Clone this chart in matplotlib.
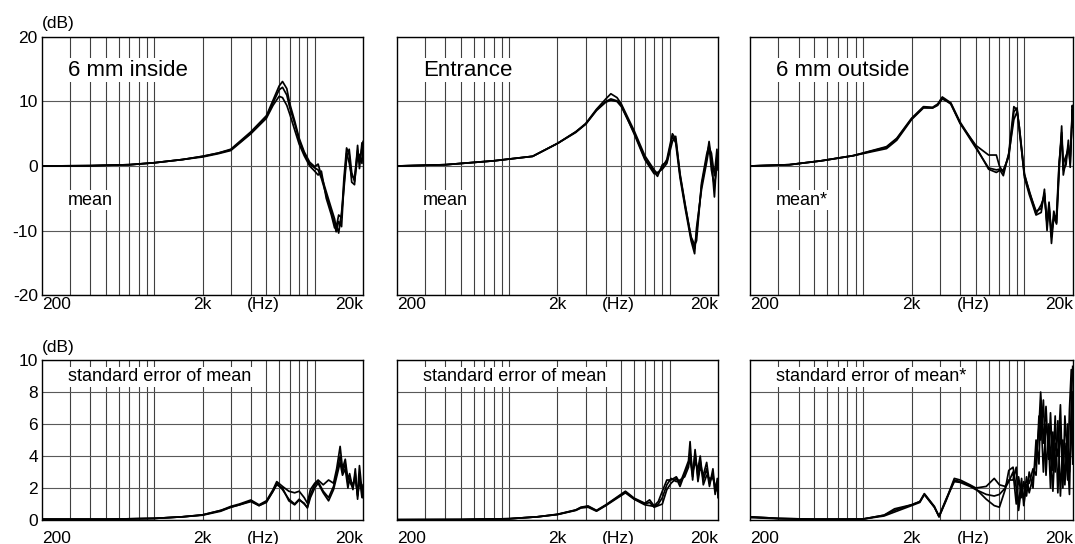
import matplotlib
matplotlib.use("Agg")
import matplotlib.pyplot as plt

plt.rcParams['font.family'] = ['Liberation Sans', 'DejaVu Sans']
plt.rcParams['axes.unicode_minus'] = False

# --- top row: mean (dB) ---
f_in = [200, 400, 700, 1000, 1500, 2000, 2500, 3000, 4000, 5000, 5500, 6000, 6300, 6700, 7000,
        7500, 8000, 8600, 9300, 10000, 10500, 11000, 11800, 12700, 13300, 13600, 14100, 14700,
        15200, 15800, 16400, 17000, 17700, 18500, 19000, 19700, 20000]
in_a = [0, 0.05, 0.2, 0.5, 1.0, 1.5, 2.0, 2.6, 5.3, 7.8, 10.2, 12.4, 13.1, 12.0, 9.6,
        7.0, 4.3, 2.2, 0.6, -0.1, 0.3, -1.5, -4.0, -6.6, -8.2, -9.6, -7.6, -8.0,
        -2.0, 2.8, 1.8, -2.5, -2.9, 3.2, -0.4, 3.6, 2.5]
in_b = [0, 0.05, 0.2, 0.5, 1.0, 1.5, 2.0, 2.5, 5.1, 7.6, 9.8, 11.8, 12.2, 11.0, 9.0,
        6.6, 4.0, 2.0, 0.3, -0.3, -0.6, -1.9, -4.5, -7.2, -9.0, -10.2, -8.6, -9.4,
        -3.0, 2.0, 0.5, -1.6, -1.8, 2.4, 0.8, 2.8, 3.2]
in_c = [0, 0.05, 0.2, 0.5, 1.0, 1.4, 1.9, 2.4, 5.0, 7.4, 9.4, 10.8, 10.6, 9.4, 8.0,
        5.6, 3.4, 1.6, 0.0, -0.8, -1.4, -0.8, -5.0, -7.6, -9.6, -9.0, -10.4, -7.2,
        -3.6, 1.2, 2.6, -1.0, -2.4, 1.4, 1.8, 0.4, 3.8]

f_ent = [200, 400, 800, 1400, 2000, 2600, 3000, 3500, 4000, 4300, 4700, 5000, 6000, 7000, 8000,
         8400, 9000, 9600, 10400, 10900, 11600, 12500, 13600, 14300, 14700, 15800, 17000,
         17600, 18200, 19000, 19700, 20000]
ent_a = [0, 0.2, 0.8, 1.5, 3.5, 5.3, 6.6, 8.8, 10.4, 11.2, 10.6, 9.6, 5.5, 1.6, -0.6,
         -1.2, -0.2, 1.0, 5.0, 4.2, -1.2, -6.0, -11.2, -12.8, -10.4, -3.0, 1.2,
         3.8, 1.0, -4.8, 1.6, 1.0]
ent_b = [0, 0.2, 0.8, 1.5, 3.5, 5.3, 6.5, 8.6, 9.9, 10.2, 10.0, 9.2, 5.2, 1.2, -0.9,
         -1.6, 0.2, 0.6, 4.6, 3.6, -1.8, -6.6, -11.6, -13.6, -9.6, -3.6, 0.6,
         2.8, 2.0, -1.5, 2.6, -0.6]
ent_c = [0, 0.2, 0.8, 1.5, 3.5, 5.2, 6.5, 8.7, 10.0, 10.4, 10.1, 9.4, 5.0, 1.0, -1.2,
         -1.0, -0.5, 0.4, 3.8, 4.6, -1.4, -6.2, -11.0, -12.2, -11.6, -2.6, 1.8,
         3.2, -0.6, -3.0, 0.0, 1.8]

f_out = [200, 350, 550, 870, 1400, 1620, 2000, 2370, 2700, 2900, 3100, 3500, 4000, 5000, 6000,
         6700, 7000, 7400, 8000, 8600, 9000, 9300, 10000, 10700, 11800, 12700, 13300, 13800,
         14200, 14700, 15200, 15800, 16400, 17000, 17400, 18100, 18700, 19200, 19800, 20000]
out_a = [0, 0.2, 0.8, 1.6, 3.0, 4.3, 7.4, 9.2, 9.1, 9.6, 10.6, 9.6, 6.6, 3.2, 1.7,
         1.7, 0.0, -1.0, 1.8, 7.2, 8.4, 6.0, -1.2, -4.0, -7.0, -6.6, -4.2, -9.0,
         -5.6, -11.0, -7.0, -8.8, 0.2, 5.2, -1.4, 1.0, 3.2, 0.4, 8.8, 6.0]
out_b = [0, 0.2, 0.8, 1.6, 2.7, 4.0, 7.2, 9.0, 9.0, 9.4, 10.4, 9.7, 6.6, 2.8, -0.3,
         -0.6, -0.5, -1.5, 2.0, 9.2, 8.7, 6.0, -1.8, -4.4, -7.6, -7.2, -3.6, -10.0,
         -6.0, -12.0, -7.8, -9.0, -0.8, 6.2, -0.6, 0.2, 4.0, -0.2, 9.4, 8.0]
out_c = [0, 0.2, 0.8, 1.6, 2.9, 4.2, 7.3, 9.1, 9.0, 9.5, 10.7, 9.8, 6.8, 3.0, -0.5,
         -1.0, -0.7, -0.6, 1.4, 8.4, 9.0, 5.4, -1.4, -3.8, -7.4, -6.0, -4.6, -8.8,
         -6.6, -10.2, -8.2, -7.6, 0.6, 4.6, 0.4, 1.6, 2.6, 1.4, 7.8, 9.0]

# --- bottom row: standard error of mean (dB) ---
fs_in = [200, 500, 1000, 1500, 2000, 2600, 3000, 3400, 4000, 4500, 5000, 5500, 5800, 6300, 6900,
         7500, 8000, 8600, 9000, 9400, 10000, 10500, 11300, 12200, 13100, 13700, 14400, 14900,
         15500, 16100, 16500, 17300, 17900, 18500, 19000, 19700, 20000]
se_in_a = [0.05, 0.05, 0.1, 0.2, 0.32, 0.6, 0.85, 1.0, 1.25, 0.95, 1.2, 1.9, 2.4, 2.1, 1.8,
           1.7, 1.8, 1.4, 1.05, 1.9, 2.3, 2.5, 2.2, 2.5, 2.3, 3.2, 4.6, 3.2,
           3.8, 2.5, 2.9, 1.9, 3.2, 1.3, 2.7, 1.4, 2.0]
se_in_b = [0.05, 0.05, 0.1, 0.2, 0.32, 0.6, 0.8, 0.95, 1.15, 0.9, 1.1, 1.8, 2.2, 2.0, 1.2,
           0.95, 1.25, 1.05, 0.75, 1.4, 2.0, 2.3, 1.7, 1.2, 1.9, 2.7, 3.6, 2.8,
           3.2, 2.0, 2.6, 2.2, 2.6, 1.6, 3.4, 1.8, 1.4]
se_in_c = [0.05, 0.05, 0.1, 0.2, 0.3, 0.55, 0.8, 0.95, 1.2, 0.9, 1.15, 1.8, 2.3, 1.9, 1.3,
           1.0, 1.3, 1.0, 0.8, 1.6, 2.2, 2.4, 1.8, 1.4, 2.1, 2.9, 4.0, 3.0,
           3.5, 2.3, 2.4, 2.0, 2.9, 1.5, 2.4, 2.2, 1.6]

fs_ent = [200, 500, 1000, 1500, 2000, 2600, 2800, 3100, 3500, 4000, 4600, 5300, 6000, 7000, 7500,
          8000, 8500, 9000, 9600, 10200, 11000, 11600, 12400, 13100, 13400, 13900, 14400, 15000,
          15500, 16200, 17000, 17700, 18600, 19200, 19800, 20000]
se_ent_a = [0.02, 0.03, 0.08, 0.2, 0.36, 0.63, 0.8, 0.88, 0.6, 0.95, 1.37, 1.8, 1.37, 1.05, 1.26,
            0.88, 1.16, 1.8, 2.5, 2.5, 2.7, 2.3, 3.05, 3.7, 4.9, 2.5, 4.2, 2.7,
            3.7, 2.5, 3.2, 2.1, 3.2, 1.8, 2.4, 1.6]
se_ent_b = [0.02, 0.03, 0.08, 0.2, 0.34, 0.6, 0.75, 0.8, 0.55, 0.9, 1.3, 1.7, 1.3, 0.95, 0.9,
            0.85, 1.0, 1.4, 2.2, 2.6, 2.4, 2.5, 2.7, 3.3, 4.2, 3.0, 3.6, 3.2,
            4.0, 2.2, 2.8, 2.6, 2.6, 2.2, 1.8, 2.0]
se_ent_c = [0.02, 0.03, 0.08, 0.2, 0.35, 0.62, 0.78, 0.85, 0.58, 0.92, 1.34, 1.75, 1.33, 1.0, 1.1,
            0.8, 0.9, 1.0, 1.9, 2.3, 2.6, 2.1, 2.9, 3.5, 3.8, 2.7, 4.4, 2.4,
            3.3, 2.8, 3.6, 2.3, 2.9, 1.6, 2.6, 1.4]

fs_out = [200, 300, 500, 800, 1000, 1350, 1570, 2000, 2250, 2400, 2770, 2960, 3270, 3680, 4000,
          4600, 5000, 5800, 6500, 7000, 7600, 8000, 8500, 8900, 9200, 9600, 9900, 10300, 10700,
          11300, 11800, 12300, 12600, 13100, 13600, 14100, 14500, 15000, 15500, 16100, 16700,
          17300, 17800, 18500, 19000, 19500, 19900]
se_out_a = [0.2, 0.1, 0.05, 0.05, 0.06, 0.3, 0.7, 0.95, 1.15, 1.65, 0.85, 0.2, 1.25, 2.6, 2.5,
            2.2, 2.0, 2.1, 2.6, 2.2, 2.1, 2.5, 2.5, 3.3, 0.6, 2.1, 1.25, 2.7, 1.7,
            2.7, 3.8, 5.8, 8.0, 4.8, 7.1, 3.8, 6.7, 3.1, 6.5, 1.7, 5.8,
            3.5, 4.8, 2.5, 6.9, 9.4, 3.5]
se_out_b = [0.15, 0.08, 0.05, 0.05, 0.06, 0.25, 0.5, 0.9, 1.1, 1.6, 0.8, 0.25, 1.3, 2.4, 2.35,
            2.1, 1.9, 1.6, 1.5, 1.6, 2.0, 2.4, 3.0, 1.0, 2.7, 1.4, 2.4, 1.5, 3.0,
            2.0, 5.0, 3.5, 7.0, 3.0, 6.0, 5.0, 2.0, 5.5, 3.0, 6.2, 1.5,
            5.0, 2.2, 6.0, 3.0, 5.0, 8.0]
se_out_c = [0.2, 0.1, 0.05, 0.05, 0.06, 0.3, 0.6, 0.95, 1.15, 1.6, 0.8, 0.2, 1.2, 2.5, 2.4,
            2.15, 1.95, 1.3, 0.9, 0.8, 1.9, 3.1, 3.3, 2.0, 1.0, 2.6, 0.9, 2.2, 2.3,
            3.2, 2.8, 6.5, 5.0, 7.5, 2.8, 6.0, 4.2, 1.8, 4.8, 4.0, 7.2,
            2.0, 6.5, 3.8, 1.6, 7.5, 9.6]

grid_freqs = [300, 400, 500, 600, 700, 800, 900, 1000, 2000,
              3000, 4000, 5000, 6000, 7000, 8000, 9000, 10000]
xtick_pos = [200, 2000, 4800, 20000]
xtick_labels = ['200', '2k', '(Hz)', '20k']

titles = ['6 mm inside', 'Entrance', '6 mm outside']
mean_labels = ['mean', 'mean', 'mean*']
se_labels = ['standard error of mean', 'standard error of mean', 'standard error of mean*']

top_data = [(f_in, [in_a, in_b, in_c]), (f_ent, [ent_a, ent_b, ent_c]), (f_out, [out_a, out_b, out_c])]
bot_data = [(fs_in, [se_in_a, se_in_b, se_in_c]), (fs_ent, [se_ent_a, se_ent_b, se_ent_c]),
            (fs_out, [se_out_a, se_out_b, se_out_c])]

fig = plt.figure(figsize=(10.75, 5.44), dpi=100)
lefts = [0.0391, 0.3693, 0.6977]
widths = [0.2986, 0.2986, 0.3005]


def setup(ax, ylim, yticks, show_y, xpad):
    ax.set_xscale('log')
    ax.set_xlim(200, 20000)
    ax.set_ylim(*ylim)
    for f in grid_freqs:
        ax.axvline(f, color='0.25', lw=0.8, zorder=0)
    for y in yticks:
        ax.axhline(y, color='0.35', lw=0.8, zorder=0)
    ax.minorticks_off()
    ax.set_xticks(xtick_pos)
    ax.set_xticklabels(xtick_labels)
    labs = ax.get_xticklabels()
    labs[0].set_ha('left')
    labs[-1].set_ha('right')
    ax.set_yticks(yticks)
    if not show_y:
        ax.set_yticklabels([])
    ax.tick_params(length=0, labelsize=12.5, pad=3)
    ax.tick_params(axis='x', pad=xpad)
    for s in ax.spines.values():
        s.set_linewidth(1.0)


for i in range(3):
    ax = fig.add_axes([lefts[i], 0.4577, widths[i], 0.4743])
    setup(ax, (-20, 20), [-20, -10, 0, 10, 20], i == 0, 1.5)
    f, curves = top_data[i]
    for c in curves:
        ax.plot(f, c, color='black', lw=1.25, zorder=3)
    box = dict(facecolor='white', edgecolor='none', pad=1)
    ax.text(0.081, 0.872, titles[i], transform=ax.transAxes, fontsize=16,
            ha='left', va='center', bbox=box, zorder=2)
    ax.text(0.081, 0.368, mean_labels[i], transform=ax.transAxes, fontsize=13,
            ha='left', va='center', bbox=box, zorder=2)

    ax2 = fig.add_axes([lefts[i], 0.0441, widths[i], 0.2941])
    setup(ax2, (0, 10), [0, 2, 4, 6, 8, 10], i == 0, 8)
    f, curves = bot_data[i]
    for c in curves:
        ax2.plot(f, c, color='black', lw=1.25, zorder=3)
    ax2.text(0.081, 0.894, se_labels[i], transform=ax2.transAxes, fontsize=13,
             ha='left', va='center', bbox=box, zorder=2)

fig.text(0.039, 0.9577, '(dB)', fontsize=12.5, ha='left', va='center')
fig.text(0.039, 0.362, '(dB)', fontsize=12.5, ha='left', va='center')

fig.savefig('out.png', dpi=100)
